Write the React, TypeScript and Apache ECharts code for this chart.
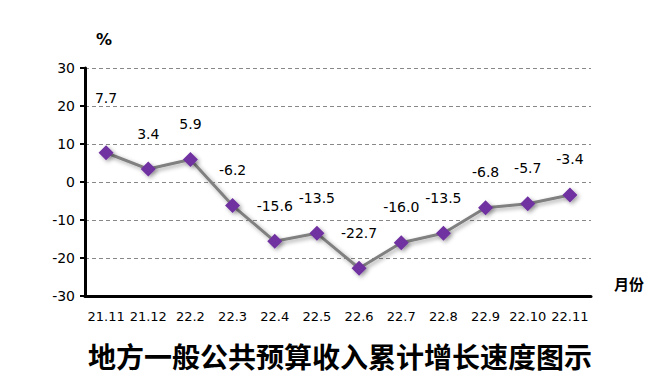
import React, { useEffect, useRef } from "react";
import * as echarts from "echarts";

const categories = ["21.11", "21.12", "22.2", "22.3", "22.4", "22.5", "22.6", "22.7", "22.8", "22.9", "22.10", "22.11"];
const growth = [7.7, 3.4, 5.9, -6.2, -15.6, -13.5, -22.7, -16.0, -13.5, -6.8, -5.7, -3.4];
const yTicks = { min: -30, max: 30, interval: 10 };
const titleText = "地方一般公共预算收入累计增长速度图示";
const yUnit = "%";
const xUnit = "月份";

export default function App() {
  const ref = useRef<HTMLDivElement>(null);
  useEffect(() => {
    if (!ref.current) return;
    const chart = echarts.init(ref.current, null, { renderer: "svg" });
    const font = "'DejaVu Sans', Verdana, sans-serif";
    chart.setOption({
      animation: false,
      backgroundColor: "#ffffff",
      grid: { left: 85, right: 72, top: 68, bottom: 91, containLabel: false },
      title: {
        text: titleText,
        left: 335,
        textAlign: "center",
        top: 337,
        textStyle: { fontFamily: "'Noto Sans CJK SC'", fontSize: 28, fontWeight: "bold", color: "#000" },
      },
      graphic: [
        { type: "text", left: 96, top: 31, style: { text: yUnit, font: "bold 16px 'DejaVu Sans', sans-serif", fill: "#000" } },
        { type: "text", left: 614, top: 276, style: { text: xUnit, font: "bold 15px 'Noto Sans CJK SC', sans-serif", fill: "#000" } },
      ],
      xAxis: {
        type: "category",
        data: categories,
        boundaryGap: true,
        axisLine: { onZero: false, lineStyle: { color: "#000", width: 3 } },
        axisTick: { show: false },
        axisLabel: { color: "#000", fontSize: 13, fontFamily: font, margin: 14, interval: 0 },
        splitLine: { show: false },
      },
      yAxis: {
        type: "value",
        min: yTicks.min,
        max: yTicks.max,
        interval: yTicks.interval,
        axisLine: { show: true, lineStyle: { color: "#000", width: 3 } },
        axisTick: { show: true, length: 5, lineStyle: { color: "#000", width: 2 } },
        axisLabel: { color: "#000", fontSize: 14, fontFamily: font, margin: 10 },
        splitLine: { show: true, lineStyle: { color: "#888", type: [4, 3], width: 1 } },
      },
      series: [
        {
          type: "line",
          data: growth.map((v, i) =>
            i === 0 ? { value: v, label: { distance: 40 } } : v
          ),
          symbol: "diamond",
          symbolSize: 15,
          lineStyle: { color: "#808080", width: 3, shadowColor: "rgba(0,0,0,0.35)", shadowBlur: 4, shadowOffsetX: 2, shadowOffsetY: 2 },
          itemStyle: { color: "#7030A0", shadowColor: "rgba(0,0,0,0.35)", shadowBlur: 4, shadowOffsetX: 2, shadowOffsetY: 2 },
          label: {
            show: true,
            position: "top",
            distance: 21,
            color: "#000",
            fontSize: 14,
            fontFamily: font,
            formatter: (p: any) => Number(p.value).toFixed(1),
          },
          z: 3,
        },
      ],
    });
    return () => chart.dispose();
  }, []);
  return <div ref={ref} style={{ position: "fixed", left: 0, top: 0, width: 663, height: 387 }} />;
}
